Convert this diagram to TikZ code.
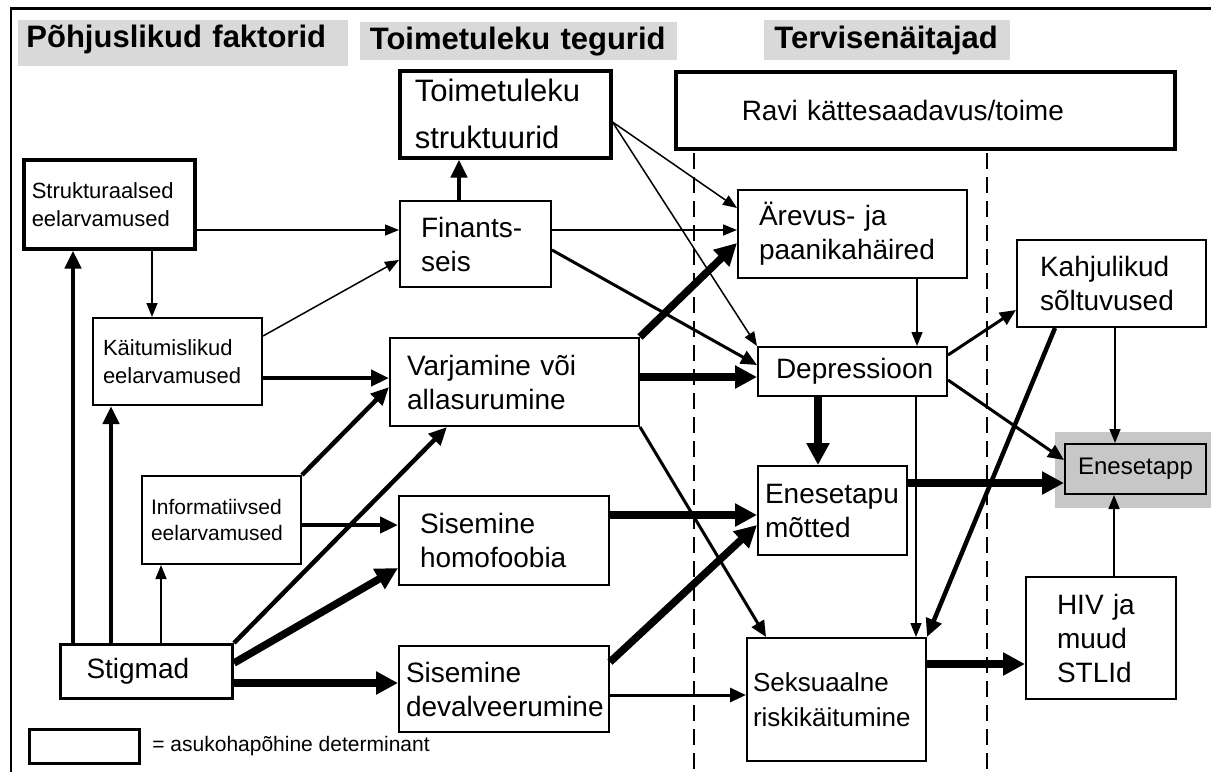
\documentclass[tikz,border=0pt]{standalone}
\usepackage{fontspec}
\setmainfont{Liberation Sans}
\usetikzlibrary{arrows.meta}

\begin{document}
\begin{tikzpicture}[x=0.5pt, y=-0.5pt,
  box/.style={draw, fill=white, line width=1pt, anchor=north west, align=left, inner ysep=0pt, font=\fontsize{14}{17}\selectfont},
  bigbox/.style={box, line width=1.75pt},
  smalltext/.style={font=\fontsize{11}{14}\selectfont},
  head/.style={fill=black!15, anchor=north west, align=left, inner ysep=0pt, font=\bfseries\fontsize{15.5}{18}\selectfont},
  weakarr/.style={-{Triangle[length=7pt,width=5.5pt]}, line width=0.75pt},
  midarr/.style={-{Triangle[length=8pt,width=7pt]}, line width=1.5pt},
  strongarr/.style={-{Triangle[length=9pt,width=8pt]}, line width=2.25pt},
  heavyarr/.style={-{Triangle[length=11pt,width=11pt]}, line width=3.75pt},
  divider/.style={line width=1pt, dash pattern=on 8pt off 4pt}]
\useasboundingbox (0,0) rectangle (1211,772);

% frame and column dividers
\draw[line width=0.8pt] (11,8) -- (11,772);
\draw[line width=1.5pt] (10,8) -- (1211,8);
\draw[divider] (694,153) -- (694,772);
\draw[divider] (987,153) -- (987,772);
\fill[black!22] (1055,432) rectangle (1211,508);

% column headings
\node[head, text width=157pt, inner xsep=4pt, minimum height=23pt, text depth=7pt] (h1) at (18,20) {Põhjuslikud faktorid};
\node[head, text width=149pt, inner xsep=4.75pt, minimum height=19pt] (h2) at (360,22) {Toimetuleku tegurid};
\node[head, text width=113pt, inner xsep=5pt, minimum height=20pt] (h3) at (764,20) {Tervisenäitajad};

% boxes
\node[bigbox, smalltext, text width=77.5pt, inner xsep=4pt, minimum height=44.5pt] (stru) at (22,158) {Strukturaalsed\\eelarvamused};
\node[box, smalltext, text width=74.5pt, inner xsep=5pt, minimum height=43.5pt] (kait) at (92,317) {Käitumislikud\\eelarvamused};
\node[box, font=\fontsize{10.5}{13}\selectfont, text width=70.5pt, inner xsep=4.5pt, minimum height=44pt] (info) at (141,475) {Informatiivsed\\eelarvamused};
\node[box, line width=1.5pt, text width=60pt, inner xsep=13pt, minimum height=27pt] (stig) at (59,643) {Stigmad};
\node[bigbox, font=\fontsize{15.5}{23.5}\selectfont, text width=90.5pt, inner xsep=7.5pt, minimum height=43.5pt] (toim) at (398,69) {Toimetuleku\\struktuurid};
\node[box, text width=54.5pt, inner xsep=10.5pt, minimum height=43pt] (fin) at (399,200) {Finants-\\seis};
\node[box, text width=107.5pt, inner xsep=8.5pt, minimum height=44pt] (varj) at (389,337) {Varjamine või\\allasurumine};
\node[box, text width=84pt, inner xsep=10.5pt, minimum height=44.5pt] (homo) at (398,495) {Sisemine\\homofoobia};
\node[box, text width=98pt, inner xsep=3.5pt, minimum height=43pt] (deva) at (398,645) {Sisemine\\devalveerumine};
\node[bigbox, text width=183.5pt, inner xsep=33pt, minimum height=38.5pt] (ravi) at (674,70) {Ravi kättesaadavus/toime};
\node[box, text width=93.5pt, inner xsep=10.5pt, minimum height=44pt] (arev) at (737,189) {Ärevus- ja\\paanikahäired};
\node[box, text width=76.5pt, inner xsep=9pt, minimum height=24.5pt] (depr) at (757,346) {Depressioon};
\node[box, text width=67.5pt, inner xsep=3.5pt, minimum height=44.5pt] (enet) at (757,465) {Enesetapu\\mõtted};
\node[box, font=\fontsize{13}{17.5}\selectfont, text width=83.5pt, inner xsep=3pt, minimum height=61.5pt] (seks) at (746,637) {Seksuaalne\\riskikäitumine};
\node[box, text width=71.5pt, inner xsep=11.5pt, minimum height=43.5pt] (kahj) at (1016,239) {Kahjulikud\\sõltuvused};
\node[box, fill=black!22, align=center, font=\fontsize{12}{14}\selectfont, minimum width=70.5pt, minimum height=25pt] (enes) at (1064,443) {Enesetapp};
\node[box, text width=44pt, inner xsep=15.5pt, minimum height=61pt] (hiv) at (1025,576) {HIV ja\\muud\\STLId};

% legend
\node[box, line width=1.5pt, minimum width=55pt, minimum height=17pt] (legbox) at (28,728) {};
\node[anchor=west, inner xsep=2pt, font=\fontsize{10.5}{13}\selectfont] (legtext) at (148,746) {= asukohapõhine determinant};

% connectors
\draw[weakarr] (stru.east |- 0,230) -- (fin.west |- 0,230);
\draw[weakarr] (152,0 |- stru.south) -- (152,0 |- kait.north);
\draw[weakarr] (kait.east |- 0,336) -- (fin.west |- 0,260);
\draw[strongarr] (kait.east |- 0,378) -- (varj.west |- 0,378);
\draw[strongarr] (73,0 |- stig.north) -- (73,0 |- stru.south);
\draw[strongarr] (111,0 |- stig.north) -- (111,0 |- kait.south);
\draw[weakarr] (161,0 |- stig.north) -- (161,0 |- info.south);
\draw[strongarr] (info.north east) -- (varj.west |- 0,387);
\draw[strongarr] (info.east |- 0,525) -- (homo.west |- 0,525);
\draw[strongarr] (stig.north east) -- (447,0 |- varj.south);
\draw[heavyarr] (stig.east |- 0,663) -- (homo.west |- 0,568);
\draw[heavyarr] (stig.east |- 0,683) -- (deva.west |- 0,683);
\draw[strongarr] (459,0 |- fin.north) -- (459,0 |- toim.south);
\draw[weakarr] (toim.east |- 0,122) -- (arev.west |- 0,208);
\draw[weakarr] (toim.east |- 0,122) -- (depr.north west);
\draw[weakarr] (fin.east |- 0,230) -- (arev.west |- 0,230);
\draw[midarr] (fin.east |- 0,250) -- (depr.west |- 0,365);
\draw[heavyarr] (varj.north east) -- (arev.west |- 0,243);
\draw[heavyarr] (varj.east |- 0,377) -- (depr.west |- 0,377);
\draw[midarr] (varj.south east) -- (766,0 |- seks.north);
\draw[heavyarr] (homo.east |- 0,515) -- (enet.west |- 0,515);
\draw[heavyarr] (deva.east |- 0,662) -- (enet.west |- 0,525);
\draw[midarr] (deva.east |- 0,695) -- (seks.west |- 0,695);
\draw[weakarr] (917,0 |- arev.south) -- (917,0 |- depr.north);
\draw[midarr] (depr.east |- 0,355) -- (kahj.west |- 0,310);
\draw[midarr] (depr.east |- 0,380) -- (enes.west |- 0,460);
\draw[heavyarr] (818,0 |- depr.south) -- (818,0 |- enet.north);
\draw[weakarr] (916,0 |- depr.south) -- (916,0 |- seks.north);
\draw[weakarr] (1115,0 |- kahj.south) -- (1115,0 |- enes.north);
\draw[strongarr] (1055,0 |- kahj.south) -- (seks.north east);
\draw[heavyarr] (enet.east |- 0,483) -- (enes.west |- 0,483);
\draw[heavyarr] (seks.east |- 0,664) -- (hiv.west |- 0,664);
\draw[weakarr] (1114,0 |- hiv.north) -- (1114,0 |- enes.south);
\end{tikzpicture}
\end{document}
